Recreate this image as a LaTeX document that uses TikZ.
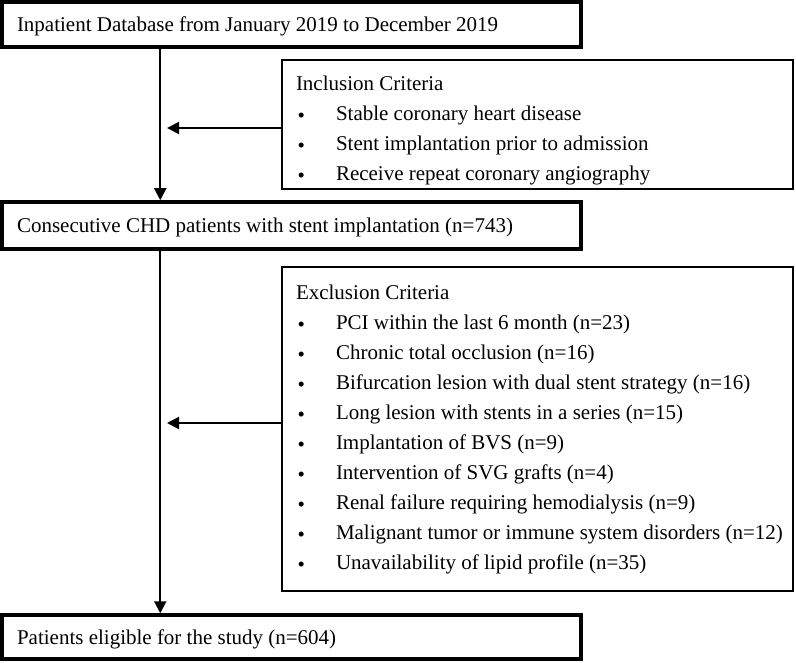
\documentclass[tikz,border=0pt]{standalone}
\usepackage{fontspec}
\setmainfont{Liberation Serif}
\usetikzlibrary{arrows.meta, positioning}

\newcommand{\crit}[1]{\makebox[40pt][l]{\hspace{1.5pt}\raisebox{-2pt}{\textbullet}}\mbox{#1}}

\begin{document}
\begin{tikzpicture}[
    x=1pt, y=-1pt,
    font=\fontsize{21}{30}\selectfont,
    stagebox/.style={
        rectangle,
        draw,
        line width=3.5pt,
        minimum width=579pt,
        text width=549pt,
        text height=15pt,
        text depth=0pt,
        inner xsep=15pt,
        align=flush left
    },
    critbox/.style={
        rectangle,
        draw,
        line width=2pt,
        minimum width=511pt,
        text width=483pt,
        inner xsep=14pt,
        align=flush left,
        anchor=west
    },
    arrow/.style={
        -{Triangle[length=12pt, width=12pt]},
        line width=2pt
    }
]
\useasboundingbox (0,0) rectangle (796,663);

% Stage boxes
\node[stagebox, minimum height=45pt] (database) at (291.5,24.5) {Inpatient Database from January 2019 to December 2019};
\node[stagebox, minimum height=47pt] (consecutive) at (291.5,225.5) {Consecutive CHD patients with stent implantation (n=743)};
\node[stagebox, minimum height=44pt] (eligible) at (291.5,637) {Patients eligible for the study (n=604)};

% Criteria boxes
\node[critbox, minimum height=129pt] (inclusion) at (281,124.5) {
\rule{0pt}{26pt}Inclusion Criteria\\
\crit{Stable coronary heart disease}\\
\crit{Stent implantation prior to admission}\\
\crit{Receive repeat coronary angiography}
};

\node[critbox, minimum height=324pt] (exclusion) at (281,429) {
Exclusion Criteria\\
\crit{PCI within the last 6 month (n=23)}\\
\crit{Chronic total occlusion (n=16)}\\
\crit{Bifurcation lesion with dual stent strategy (n=16)}\\
\crit{Long lesion with stents in a series (n=15)}\\
\crit{Implantation of BVS (n=9)}\\
\crit{Intervention of SVG grafts (n=4)}\\
\crit{Renal failure requiring hemodialysis (n=9)}\\
\crit{Malignant tumor or immune system disorders (n=12)}\\
\crit{Unavailability of lipid profile (n=35)}
};

% Arrows
\draw[arrow] ([xshift=160pt]database.south west) -- ([xshift=160pt]consecutive.north west);
\draw[arrow] ([xshift=160pt]consecutive.south west) -- ([xshift=160pt]eligible.north west);
\draw[arrow] ([yshift=-3.5pt]inclusion.west) -- ++(-114,0);
\draw[arrow] ([yshift=6pt]exclusion.west) -- ++(-114,0);

\end{tikzpicture}
\end{document}
